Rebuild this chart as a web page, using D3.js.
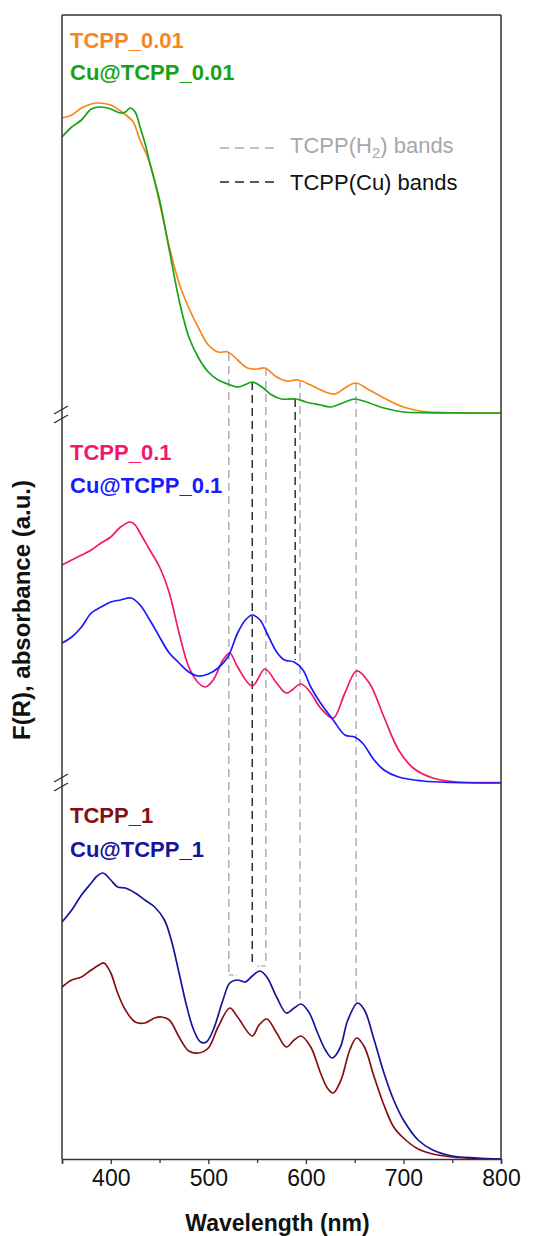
<!DOCTYPE html>
<html>
<head>
<meta charset="utf-8">
<script src="https://cdn.jsdelivr.net/npm/d3@7"></script>
<style>
  html, body { margin: 0; padding: 0; background: #fff; }
  svg { display: block; font-family: "Liberation Sans", Arial, sans-serif; }
</style>
</head>
<body>
<svg id="chart" width="549" height="1236"></svg>
<script>
// ---------------- DATA ----------------
const seriesNames = ["TCPP_0.01", "Cu@TCPP_0.01", "TCPP_0.1", "Cu@TCPP_0.1", "TCPP_1", "Cu@TCPP_1"];
const seriesColors = ["#f7861c", "#17a317", "#f2166e", "#1a1aff", "#851010", "#14149c"];

// wavelength (nm), absorbance (a.u., offset per panel)
const tcpp001 = [[350,295],[360,298],[370,305],[380,309],[386,310],[400,308],[410,302],[418,296],[423,291],[430,273],[440,250],[450,210],[460,166],[470,130],[480,105],[490,85],[500,68],[510,61],[520,61],[530,53],[540,45],[550,44],[558,45],[570,36],[580,32],[592,33],[605,28],[620,21],[630,19],[640,25],[651,30],[665,23],[680,15],[700,6],[720,1.5],[740,0.5],[800,0]];
const cuTcpp001 = [[350,276],[360,286],[370,293],[380,304],[390,306],[400,304],[410,300],[415,301],[420,305],[425,301],[430,286],[435,270],[440,250],[450,213],[460,163],[470,113],[480,76],[490,55],[500,41],[510,33],[520,29],[530,26],[537,28],[545,31],[555,26],[565,18],[575,14],[590,14],[600,11],[615,8],[625,6],[640,11],[650,14],[665,10],[680,5],[700,1],[720,0.3],[800,0]];
const tcpp01 = [[350,218],[360,223],[370,228],[380,233],[390,240],[400,246],[410,256],[420,261],[425,258],[430,250],[440,233],[450,216],[460,190],[470,150],[480,116],[490,100],[497,96],[505,103],[515,123],[522,130],[530,116],[545,97],[558,114],[570,100],[580,90],[595,99],[605,90],[615,75],[628,65],[640,90],[652,112],[665,100],[680,66],[695,33],[710,15],[730,5],[750,1.5],[800,0.5]];
const cuTcpp01 = [[350,140],[360,146],[370,156],[380,170],[390,176],[400,181],[410,183],[421,185],[430,178],[440,163],[450,146],[460,130],[470,120],[480,111],[490,107],[500,109],[510,115],[520,126],[530,150],[538,163],[545,168],[553,163],[560,150],[570,131],[578,123],[588,121],[597,113],[605,96],[615,80],[628,63],[640,48],[650,46],[658,40],[670,23],[680,13],[695,6],[720,2],[750,0.5],[800,0]];
const tcpp1 = [[350,172],[360,179],[370,182],[380,189],[388,194],[393,196],[400,186],[407,166],[415,149],[425,137],[435,136],[445,141],[452,142],[460,139],[470,122],[480,108],[490,106],[500,111],[510,132],[522,151],[530,142],[545,123],[552,134],[560,140],[570,126],[580,112],[588,119],[595,123],[605,112],[615,86],[622,71],[628,66],[636,79],[645,109],[652,121],[660,112],[670,82],[680,54],[690,32],[700,21],[715,10],[730,5],[750,2],[775,0.5],[800,0]];
const cuTcpp1 = [[350,237],[360,249],[370,264],[380,276],[385,282],[392,286],[400,279],[407,272],[415,271],[425,266],[435,259],[445,252],[455,239],[462,219],[470,186],[478,152],[485,129],[492,117],[498,117],[505,129],[515,159],[522,176],[530,179],[538,177],[545,183],[553,188],[560,182],[570,162],[580,146],[588,151],[595,155],[603,147],[612,126],[620,109],[627,101],[635,111],[643,139],[653,156],[660,149],[670,119],[680,86],[690,59],[700,39],[715,19],[730,9],[750,3],[775,1],[800,0]];

const panelSeries = [[tcpp001, cuTcpp001], [tcpp01, cuTcpp01], [tcpp1, cuTcpp1]];
const panelMax = [398, 370, 376];   // a.u. range shown in each panel

const xTicks = [400, 500, 600, 700, 800];
const xMinorTicks = [350, 450, 550, 650, 750];

// band marker lines: wavelength, kind, start [panel, a.u.], end [panel, a.u.]
const bandLines = [
  {nm: 521, kind: "H2", from: [0, 60], to: [2, 184]},
  {nm: 559, kind: "H2", from: [0, 45], to: [2, 193]},
  {nm: 594, kind: "H2", from: [0, 33], to: [2, 155]},
  {nm: 651.5, kind: "H2", from: [0, 30], to: [2, 156]},
  {nm: 545, kind: "Cu", from: [0, 31], to: [2, 197]},
  {nm: 589, kind: "Cu", from: [0, 14], to: [1, 123]}
];
const bandConnectors = [
  {nm1: 521, nm2: 529, panel: 2, value: 184},
  {nm1: 559, nm2: 550, panel: 2, value: 193}
];
const bandLegend = [
  {kind: "H2", label: ["TCPP(H", "2", ") bands"]},
  {kind: "Cu", label: ["TCPP(Cu) bands"]}
];
const bandColors = {H2: "#aaaaaa", Cu: "#222222"};

// ---------------- LAYOUT ----------------
const svg = d3.select("#chart");
const left = 62, right = 501;
const bounds = [15, 413, 783, 1159];
const legendY = [[48, 80], [460, 493], [823, 857]];

const x = d3.scaleLinear().domain([350, 800]).range([left, right]);
const yScales = panelMax.map((m, i) => d3.scaleLinear().domain([0, m]).range([bounds[i + 1], bounds[i]]));

const line = (ys) => d3.line().x(d => x(d[0])).y(d => ys(d[1])).curve(d3.curveCatmullRom.alpha(0.5));

// band lines (behind curves)
const gBands = svg.append("g");
bandLines.forEach(b => {
  gBands.append("line")
    .attr("x1", x(b.nm)).attr("x2", x(b.nm))
    .attr("y1", yScales[b.from[0]](b.from[1]))
    .attr("y2", yScales[b.to[0]](b.to[1]))
    .attr("stroke", bandColors[b.kind]).attr("stroke-width", 1.4)
    .attr("stroke-dasharray", "8,5");
});
bandConnectors.forEach(c => {
  gBands.append("line")
    .attr("x1", x(c.nm1)).attr("x2", x(c.nm2))
    .attr("y1", yScales[c.panel](c.value)).attr("y2", yScales[c.panel](c.value))
    .attr("stroke", "#999").attr("stroke-width", 1.2).attr("stroke-dasharray", "5,2");
});

// curves
panelSeries.forEach((pair, p) => {
  pair.forEach((data, k) => {
    const idx = p * 2 + k;
    svg.append("path").datum(data)
      .attr("d", line(yScales[p]))
      .attr("fill", "none")
      .attr("stroke", seriesColors[idx])
      .attr("stroke-width", 1.7);
    svg.append("text")
      .attr("x", 70).attr("y", legendY[p][k])
      .attr("fill", seriesColors[idx])
      .attr("font-size", 22).attr("font-weight", "bold")
      .text(seriesNames[idx]);
  });
});

// frame
const frameColor = "#333";
svg.append("line").attr("x1", left).attr("x2", right).attr("y1", bounds[0]).attr("y2", bounds[0]).attr("stroke", frameColor).attr("stroke-width", 1.5);
svg.append("line").attr("x1", left).attr("x2", left).attr("y1", bounds[0]).attr("y2", bounds[3]).attr("stroke", frameColor).attr("stroke-width", 1.5);
svg.append("line").attr("x1", right).attr("x2", right).attr("y1", bounds[0]).attr("y2", bounds[3]).attr("stroke", frameColor).attr("stroke-width", 1.5);

// x axis
const xAxis = svg.append("g").attr("transform", `translate(0,${bounds[3]})`)
  .call(d3.axisBottom(x).tickValues(xTicks).tickSize(5).tickPadding(6).tickFormat(d3.format("d")));
xAxis.select(".domain").attr("stroke", frameColor).attr("stroke-width", 1.5);
xAxis.selectAll(".tick line").attr("stroke", frameColor).attr("stroke-width", 1.3);
xAxis.selectAll(".tick text").attr("font-size", 23).attr("fill", "#111")
  .attr("font-family", "'Liberation Sans', Arial, sans-serif");
const minor = svg.append("g").attr("transform", `translate(0,${bounds[3]})`)
  .call(d3.axisBottom(x).tickValues(xMinorTicks).tickSize(4).tickFormat(""));
minor.select(".domain").remove();
minor.selectAll(".tick line").attr("stroke", frameColor).attr("stroke-width", 1.3);

// axis breaks
[bounds[1] + 2, bounds[2]].forEach(b => {
  [-5, 4].forEach(o => {
    svg.append("line")
      .attr("x1", left - 8).attr("y1", b + o + 4)
      .attr("x2", left + 6).attr("y2", b + o - 4)
      .attr("stroke", frameColor).attr("stroke-width", 1.4);
  });
});

// band legend
bandLegend.forEach((l, i) => {
  const yy = 148 + i * 34;
  svg.append("line").attr("x1", 220).attr("x2", 276).attr("y1", yy).attr("y2", yy)
    .attr("stroke", bandColors[l.kind]).attr("stroke-width", 1.4).attr("stroke-dasharray", "9,6");
  const t = svg.append("text").attr("x", 290).attr("y", yy + 5 + i * 3)
    .attr("font-size", 22).attr("fill", l.kind === "H2" ? "#a8a8a8" : "#111");
  t.append("tspan").text(l.label[0]);
  if (l.label.length > 1) {
    t.append("tspan").attr("font-size", 15).attr("dy", 5).text(l.label[1]);
    t.append("tspan").attr("dy", -5).text(l.label[2]);
  }
});

// axis titles
svg.append("text").attr("x", (left + right) / 2 - 4).attr("y", 1231)
  .attr("text-anchor", "middle").attr("font-size", 23).attr("font-weight", "bold").attr("fill", "#111")
  .text("Wavelength (nm)");
svg.append("text").attr("transform", "translate(30,610) rotate(-90)")
  .attr("text-anchor", "middle").attr("font-size", 24).attr("font-weight", "bold").attr("fill", "#111")
  .text("F(R), absorbance (a.u.)");
</script>
</body>
</html>
